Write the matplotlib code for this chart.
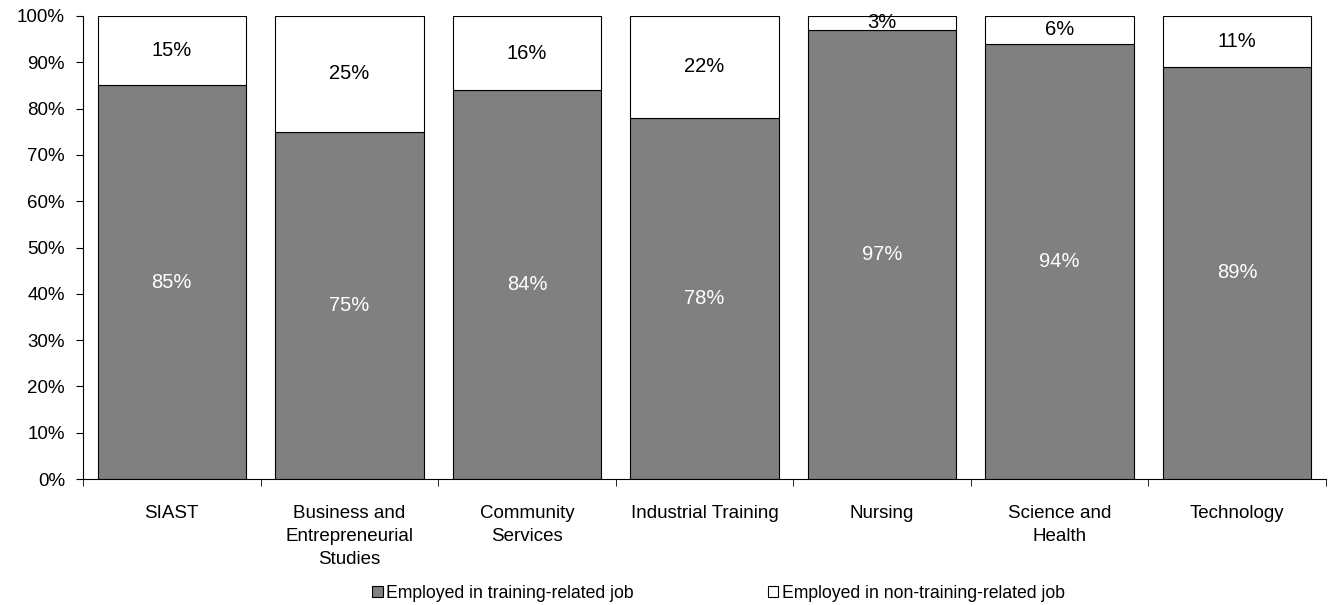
import matplotlib.pyplot as plt
import numpy as np

plt.rcParams['font.family'] = ['Liberation Sans', 'DejaVu Sans']

categories = ["SIAST", "Business and\nEntrepreneurial\nStudies", "Community\nServices",
              "Industrial Training", "Nursing", "Science and\nHealth", "Technology"]
related = [85, 75, 84, 78, 97, 94, 89]
non_related = [15, 25, 16, 22, 3, 6, 11]
series_names = ["Employed in training-related job", "Employed in non-training-related job"]

fig = plt.figure(figsize=(13.31, 6.05), dpi=100)
ax = fig.add_axes([83 / 1331, 1 - 479 / 605, 1243 / 1331, 463 / 605])

x = np.arange(len(categories))
w = 0.836
b1 = ax.bar(x, related, width=w, color="#808080", edgecolor="black", linewidth=0.8,
            label=series_names[0])
b2 = ax.bar(x, non_related, width=w, bottom=related, color="white", edgecolor="black",
            linewidth=0.8, label=series_names[1])

for i in range(len(categories)):
    ax.text(x[i], related[i] / 2, f"{related[i]}%", ha="center", va="center",
            color="white", fontsize=14.5)
    ax.text(x[i], related[i] + non_related[i] / 2, f"{non_related[i]}%", ha="center",
            va="center", color="black", fontsize=14.5)

ax.set_xlim(-0.5, len(categories) - 0.5)
ax.set_ylim(0, 100)
ax.set_yticks(range(0, 101, 10))
ax.set_yticklabels([f"{v}%" for v in range(0, 101, 10)], fontsize=13.5)
ax.set_xticks(x)
ax.set_xticklabels(categories, fontsize=13.5, linespacing=1.45)
ax.tick_params(axis="x", length=0, pad=19)
ax.set_xticks(np.arange(-0.5, len(categories), 1), minor=True)
ax.tick_params(axis="x", which="minor", length=5, direction="out")
ax.tick_params(axis="y", length=5, direction="out", pad=8)

for s in ["top", "right"]:
    ax.spines[s].set_visible(False)

fig.legend(handles=[b1, b2], loc="center left", bbox_to_anchor=(372 / 1331, 1 - 593 / 605),
           ncol=2, frameon=False, fontsize=12.7, handlelength=0.6, handleheight=0.6,
           handletextpad=0.2, columnspacing=7.6, borderpad=0, borderaxespad=0)

fig.savefig("out.png", dpi=100)
